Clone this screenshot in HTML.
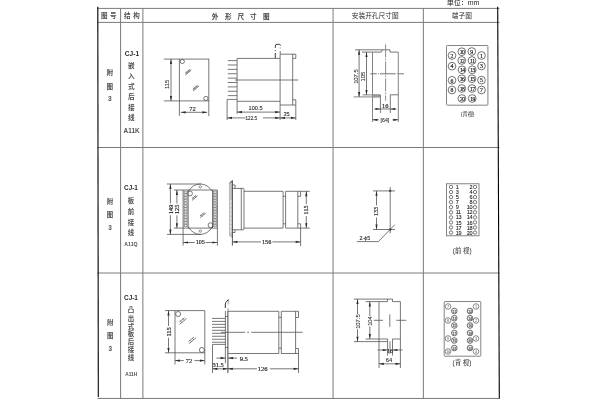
<!DOCTYPE html>
<html lang="zh">
<head>
<meta charset="utf-8">
<title>CJ-1 外形尺寸图</title>
<style>
html,body{margin:0;padding:0;background:#fff;}
body{width:600px;height:400px;overflow:hidden;}
svg{display:block;}
#soft{filter:blur(0.4px);}
#crisp{filter:blur(0.2px);}
</style>
</head>
<body>
<svg width="600" height="400" viewBox="0 0 600 400">
<rect x="0" y="0" width="600" height="400" fill="#fff"/>
<g id="soft">
<g id="grid">
<line x1="97.5" y1="8.4" x2="499.5" y2="8.4" stroke="#7a7a7a" stroke-width="1"/>
<line x1="97.5" y1="22.4" x2="499.5" y2="22.4" stroke="#7a7a7a" stroke-width="1"/>
<line x1="97.5" y1="147.5" x2="499.5" y2="147.5" stroke="#7a7a7a" stroke-width="1"/>
<line x1="97.5" y1="273" x2="499.5" y2="273" stroke="#7a7a7a" stroke-width="1"/>
<line x1="97.5" y1="398.45" x2="499.5" y2="398.45" stroke="#7a7a7a" stroke-width="1"/>
<line x1="120.6" y1="8.4" x2="120.6" y2="398.5" stroke="#7a7a7a" stroke-width="1"/>
<line x1="142.9" y1="8.4" x2="142.9" y2="398.5" stroke="#7a7a7a" stroke-width="1"/>
<line x1="333.05" y1="8.4" x2="333.05" y2="398.5" stroke="#7a7a7a" stroke-width="1"/>
<line x1="423.35" y1="8.4" x2="423.35" y2="398.5" stroke="#7a7a7a" stroke-width="1"/>
</g>
<g id="hdr">
<text x="463" y="2.8" font-size="7" font-family='"Liberation Sans", "Noto Sans CJK SC", sans-serif' text-anchor="middle" font-weight="normal" fill="#222" dominant-baseline="central">单位：mm</text>
<text x="108.8" y="15.6" font-size="6.5" font-family='"Liberation Sans", "Noto Sans CJK SC", sans-serif' text-anchor="middle" font-weight="bold" fill="#505050" dominant-baseline="central" letter-spacing="2.5" dx="1.25">图号</text>
<text x="131.8" y="15.6" font-size="6.5" font-family='"Liberation Sans", "Noto Sans CJK SC", sans-serif' text-anchor="middle" font-weight="bold" fill="#505050" dominant-baseline="central" letter-spacing="2.7" dx="1.35">结构</text>
<text x="215" y="16.2" font-size="6.6" font-family='"Liberation Sans", "Noto Sans CJK SC", sans-serif' text-anchor="middle" font-weight="bold" fill="#444" dominant-baseline="central">外</text>
<text x="228.4" y="16.2" font-size="6.6" font-family='"Liberation Sans", "Noto Sans CJK SC", sans-serif' text-anchor="middle" font-weight="bold" fill="#444" dominant-baseline="central">形</text>
<text x="240.8" y="16.2" font-size="6.6" font-family='"Liberation Sans", "Noto Sans CJK SC", sans-serif' text-anchor="middle" font-weight="bold" fill="#444" dominant-baseline="central">尺</text>
<text x="253.3" y="16.2" font-size="6.6" font-family='"Liberation Sans", "Noto Sans CJK SC", sans-serif' text-anchor="middle" font-weight="bold" fill="#444" dominant-baseline="central">寸</text>
<text x="266.3" y="16.2" font-size="6.6" font-family='"Liberation Sans", "Noto Sans CJK SC", sans-serif' text-anchor="middle" font-weight="bold" fill="#444" dominant-baseline="central">图</text>
<text x="375.2" y="15.6" font-size="6.7" font-family='"Liberation Sans", "Noto Sans CJK SC", sans-serif' text-anchor="middle" font-weight="normal" fill="#2a2a2a" dominant-baseline="central">安装开孔尺寸图</text>
<text x="461.8" y="15.6" font-size="6.7" font-family='"Liberation Sans", "Noto Sans CJK SC", sans-serif' text-anchor="middle" font-weight="normal" fill="#2a2a2a" dominant-baseline="central">端子图</text>
</g>
<g id="labels">
<text x="109.8" y="72.8" font-size="6.6" font-family='"Liberation Sans", "Noto Sans CJK SC", sans-serif' text-anchor="middle" font-weight="bold" fill="#505050" dominant-baseline="central">附</text>
<text x="109.8" y="86" font-size="6.6" font-family='"Liberation Sans", "Noto Sans CJK SC", sans-serif' text-anchor="middle" font-weight="bold" fill="#505050" dominant-baseline="central">图</text>
<text x="109.8" y="98.8" font-size="6.6" font-family='"Liberation Sans", "Noto Sans CJK SC", sans-serif' text-anchor="middle" font-weight="bold" fill="#505050" dominant-baseline="central">3</text>
<text x="132" y="53.2" font-size="6.6" font-family='"Liberation Sans", "Noto Sans CJK SC", sans-serif' text-anchor="middle" font-weight="bold" fill="#2a2a2a" dominant-baseline="central">CJ-1</text>
<text x="131.4" y="65.8" font-size="6.6" font-family='"Liberation Sans", "Noto Sans CJK SC", sans-serif' text-anchor="middle" font-weight="bold" fill="#505050" dominant-baseline="central">嵌</text>
<text x="131.4" y="76.2" font-size="6.6" font-family='"Liberation Sans", "Noto Sans CJK SC", sans-serif' text-anchor="middle" font-weight="bold" fill="#505050" dominant-baseline="central">入</text>
<text x="131.4" y="86.3" font-size="6.6" font-family='"Liberation Sans", "Noto Sans CJK SC", sans-serif' text-anchor="middle" font-weight="bold" fill="#505050" dominant-baseline="central">式</text>
<text x="131.4" y="96.8" font-size="6.6" font-family='"Liberation Sans", "Noto Sans CJK SC", sans-serif' text-anchor="middle" font-weight="bold" fill="#505050" dominant-baseline="central">后</text>
<text x="131.4" y="107.3" font-size="6.6" font-family='"Liberation Sans", "Noto Sans CJK SC", sans-serif' text-anchor="middle" font-weight="bold" fill="#505050" dominant-baseline="central">接</text>
<text x="131.4" y="117.5" font-size="6.6" font-family='"Liberation Sans", "Noto Sans CJK SC", sans-serif' text-anchor="middle" font-weight="bold" fill="#505050" dominant-baseline="central">线</text>
<text x="131.6" y="130.2" font-size="6.4" font-family='"Liberation Sans", "Noto Sans CJK SC", sans-serif' text-anchor="middle" font-weight="bold" fill="#505050" dominant-baseline="central">A11K</text>
<text x="110" y="201" font-size="6.4" font-family='"Liberation Sans", "Noto Sans CJK SC", sans-serif' text-anchor="middle" font-weight="bold" fill="#505050" dominant-baseline="central">附</text>
<text x="110" y="214.6" font-size="6.4" font-family='"Liberation Sans", "Noto Sans CJK SC", sans-serif' text-anchor="middle" font-weight="bold" fill="#505050" dominant-baseline="central">图</text>
<text x="110" y="227.6" font-size="6.4" font-family='"Liberation Sans", "Noto Sans CJK SC", sans-serif' text-anchor="middle" font-weight="bold" fill="#505050" dominant-baseline="central">3</text>
<text x="131" y="187.4" font-size="6.4" font-family='"Liberation Sans", "Noto Sans CJK SC", sans-serif' text-anchor="middle" font-weight="bold" fill="#2a2a2a" dominant-baseline="central">CJ-1</text>
<text x="131" y="200.4" font-size="6.4" font-family='"Liberation Sans", "Noto Sans CJK SC", sans-serif' text-anchor="middle" font-weight="bold" fill="#505050" dominant-baseline="central">板</text>
<text x="131" y="211" font-size="6.4" font-family='"Liberation Sans", "Noto Sans CJK SC", sans-serif' text-anchor="middle" font-weight="bold" fill="#505050" dominant-baseline="central">前</text>
<text x="131" y="222" font-size="6.4" font-family='"Liberation Sans", "Noto Sans CJK SC", sans-serif' text-anchor="middle" font-weight="bold" fill="#505050" dominant-baseline="central">接</text>
<text x="131" y="232.4" font-size="6.4" font-family='"Liberation Sans", "Noto Sans CJK SC", sans-serif' text-anchor="middle" font-weight="bold" fill="#505050" dominant-baseline="central">线</text>
<text x="131" y="244.4" font-size="5.2" font-family='"Liberation Sans", "Noto Sans CJK SC", sans-serif' text-anchor="middle" font-weight="bold" fill="#505050" dominant-baseline="central">A11Q</text>
<text x="110.3" y="322" font-size="6.4" font-family='"Liberation Sans", "Noto Sans CJK SC", sans-serif' text-anchor="middle" font-weight="bold" fill="#505050" dominant-baseline="central">附</text>
<text x="110.3" y="335" font-size="6.4" font-family='"Liberation Sans", "Noto Sans CJK SC", sans-serif' text-anchor="middle" font-weight="bold" fill="#505050" dominant-baseline="central">图</text>
<text x="110.3" y="348.5" font-size="6.4" font-family='"Liberation Sans", "Noto Sans CJK SC", sans-serif' text-anchor="middle" font-weight="bold" fill="#505050" dominant-baseline="central">3</text>
<text x="131" y="297.2" font-size="6.4" font-family='"Liberation Sans", "Noto Sans CJK SC", sans-serif' text-anchor="middle" font-weight="bold" fill="#2a2a2a" dominant-baseline="central">CJ-1</text>
<text x="131" y="309.8" font-size="6.4" font-family='"Liberation Sans", "Noto Sans CJK SC", sans-serif' text-anchor="middle" font-weight="bold" fill="#505050" dominant-baseline="central">凸</text>
<text x="131" y="318.6" font-size="6.4" font-family='"Liberation Sans", "Noto Sans CJK SC", sans-serif' text-anchor="middle" font-weight="bold" fill="#505050" dominant-baseline="central">出</text>
<text x="131" y="326" font-size="6.4" font-family='"Liberation Sans", "Noto Sans CJK SC", sans-serif' text-anchor="middle" font-weight="bold" fill="#505050" dominant-baseline="central">式</text>
<text x="131" y="333.4" font-size="6.4" font-family='"Liberation Sans", "Noto Sans CJK SC", sans-serif' text-anchor="middle" font-weight="bold" fill="#505050" dominant-baseline="central">板</text>
<text x="131" y="341.3" font-size="6.4" font-family='"Liberation Sans", "Noto Sans CJK SC", sans-serif' text-anchor="middle" font-weight="bold" fill="#505050" dominant-baseline="central">后</text>
<text x="131" y="349.6" font-size="6.4" font-family='"Liberation Sans", "Noto Sans CJK SC", sans-serif' text-anchor="middle" font-weight="bold" fill="#505050" dominant-baseline="central">接</text>
<text x="131" y="357.5" font-size="6.4" font-family='"Liberation Sans", "Noto Sans CJK SC", sans-serif' text-anchor="middle" font-weight="bold" fill="#505050" dominant-baseline="central">线</text>
<text x="131.2" y="374.4" font-size="4.8" font-family='"Liberation Sans", "Noto Sans CJK SC", sans-serif' text-anchor="middle" font-weight="bold" fill="#505050" dominant-baseline="central">A11H</text>
</g>
<g id="r1a">
<line x1="163.8" y1="59.1" x2="209.2" y2="59.1" stroke="#555" stroke-width="0.8"/>
<line x1="163.8" y1="100.9" x2="209.2" y2="100.9" stroke="#555" stroke-width="0.8"/>
<line x1="179.4" y1="59.1" x2="179.4" y2="115.8" stroke="#555" stroke-width="0.8"/>
<line x1="208.8" y1="59.1" x2="208.8" y2="116.2" stroke="#555" stroke-width="0.8"/>
<circle cx="182.3" cy="61.5" r="2.1" fill="none" stroke="#555" stroke-width="0.8"/>
<circle cx="205.9" cy="98.4" r="2.1" fill="none" stroke="#555" stroke-width="0.8"/>
<line x1="185.35" y1="75.08" x2="191.48" y2="69.94" stroke="#555" stroke-width="0.75"/>
<line x1="185.09" y1="73.22" x2="189.68" y2="69.36" stroke="#555" stroke-width="0.75"/>
<line x1="185.99" y1="71.8" x2="187.66" y2="73.8" stroke="#666" stroke-width="0.6"/>
<line x1="188.14" y1="70" x2="189.81" y2="72" stroke="#666" stroke-width="0.6"/>
<line x1="185.6" y1="73.9" x2="190.3" y2="69.9" stroke="#777" stroke-width="0.7"/>
<line x1="193.05" y1="90.98" x2="199.18" y2="85.84" stroke="#555" stroke-width="0.75"/>
<line x1="192.79" y1="89.12" x2="197.38" y2="85.26" stroke="#555" stroke-width="0.75"/>
<line x1="193.69" y1="87.7" x2="195.36" y2="89.7" stroke="#666" stroke-width="0.6"/>
<line x1="195.84" y1="85.9" x2="197.51" y2="87.9" stroke="#666" stroke-width="0.6"/>
<line x1="193.3" y1="89.8" x2="198" y2="85.8" stroke="#777" stroke-width="0.7"/>
<line x1="171" y1="59.1" x2="171" y2="100.9" stroke="#555" stroke-width="0.8"/>
<polygon points="171,59.1 172.1,64 169.9,64" fill="#2a2a2a"/>
<polygon points="171,100.9 169.9,96 172.1,96" fill="#2a2a2a"/>
<text x="167.4" y="84.4" font-size="5.8" font-family='"Liberation Sans", "Noto Sans CJK SC", sans-serif' text-anchor="middle" font-weight="normal" fill="#2a2a2a" dominant-baseline="central" transform="rotate(-90 167.4 84.4)" stroke="#2a2a2a" stroke-width="0.1">115</text>
<line x1="180.8" y1="112.3" x2="207.2" y2="112.3" stroke="#555" stroke-width="0.8"/>
<polygon points="180.8,112.3 185.7,111.2 185.7,113.4" fill="#2a2a2a"/>
<polygon points="207.2,112.3 202.3,113.4 202.3,111.2" fill="#2a2a2a"/>
<text x="192.6" y="109.3" font-size="5.8" font-family='"Liberation Sans", "Noto Sans CJK SC", sans-serif' text-anchor="middle" font-weight="normal" fill="#2a2a2a" dominant-baseline="central" stroke="#2a2a2a" stroke-width="0.1">72</text>
</g>
<g id="r1b">
<polyline points="237.1,113.8 237.1,58.4 280,58.4" fill="none" stroke="#555" stroke-width="0.8"/>
<line x1="237.1" y1="101.3" x2="280" y2="101.3" stroke="#555" stroke-width="0.8"/>
<polyline points="280.1,120 280.1,54.2 295.8,54.2 295.8,58.4 292.7,58.4" fill="none" stroke="#555" stroke-width="0.8"/>
<line x1="292.7" y1="54" x2="292.7" y2="105" stroke="#555" stroke-width="0.8"/>
<line x1="280" y1="105" x2="295.8" y2="105" stroke="#555" stroke-width="0.8"/>
<polyline points="292.7,99.8 295.8,99.8 295.8,120" fill="none" stroke="#555" stroke-width="0.8"/>
<line x1="275.3" y1="58.2" x2="275.3" y2="53" stroke="#333" stroke-width="0.95"/>
<line x1="275.3" y1="51.2" x2="275.3" y2="50.2" stroke="#333" stroke-width="0.95"/>
<path d="M275.3 47.9 L275.3 46 Q275.3 44.3 277 44.3 L279.4 44.3 Q280.4 44.3 280.4 45.7" fill="none" stroke="#333" stroke-width="0.95"/>
<line x1="280.2" y1="47.2" x2="280.2" y2="48.8" stroke="#aaa" stroke-width="0.9"/>
<line x1="280.2" y1="51.1" x2="280.2" y2="54" stroke="#666" stroke-width="0.9"/>
<line x1="227.8" y1="60.6" x2="237.1" y2="60.6" stroke="#555" stroke-width="0.8"/>
<line x1="227.8" y1="64.98" x2="237.1" y2="64.98" stroke="#555" stroke-width="0.8"/>
<line x1="227.8" y1="69.36" x2="237.1" y2="69.36" stroke="#555" stroke-width="0.8"/>
<line x1="227.8" y1="73.74" x2="237.1" y2="73.74" stroke="#555" stroke-width="0.8"/>
<line x1="227.8" y1="78.12" x2="237.1" y2="78.12" stroke="#555" stroke-width="0.8"/>
<line x1="227.8" y1="82.5" x2="237.1" y2="82.5" stroke="#555" stroke-width="0.8"/>
<line x1="227.8" y1="86.88" x2="237.1" y2="86.88" stroke="#555" stroke-width="0.8"/>
<line x1="227.8" y1="91.26" x2="237.1" y2="91.26" stroke="#555" stroke-width="0.8"/>
<line x1="227.8" y1="95.64" x2="237.1" y2="95.64" stroke="#555" stroke-width="0.8"/>
<polyline points="237.1,99.4 227.1,99.4 227.1,120" fill="none" stroke="#555" stroke-width="0.8"/>
<line x1="235" y1="80" x2="298.2" y2="80" stroke="#555" stroke-width="0.8"/>
<line x1="237.1" y1="112.1" x2="280" y2="112.1" stroke="#555" stroke-width="0.8"/>
<polygon points="237.1,112.1 242,111 242,113.2" fill="#2a2a2a"/>
<polygon points="280,112.1 275.1,113.2 275.1,111" fill="#2a2a2a"/>
<text x="255.6" y="108.2" font-size="5.6" font-family='"Liberation Sans", "Noto Sans CJK SC", sans-serif' text-anchor="middle" font-weight="normal" fill="#2a2a2a" dominant-baseline="central" stroke="#2a2a2a" stroke-width="0.1">100.5</text>
<line x1="227.1" y1="117.9" x2="245.5" y2="117.9" stroke="#555" stroke-width="0.8"/>
<line x1="263" y1="117.9" x2="280" y2="117.9" stroke="#555" stroke-width="0.8"/>
<polygon points="227.1,117.9 232,116.8 232,119" fill="#2a2a2a"/>
<polygon points="280,117.9 275.1,119 275.1,116.8" fill="#2a2a2a"/>
<text x="251.3" y="118.6" font-size="4.6" font-family='"Liberation Sans", "Noto Sans CJK SC", sans-serif' text-anchor="middle" font-weight="normal" fill="#2a2a2a" dominant-baseline="central" stroke="#2a2a2a" stroke-width="0.1">122.5</text>
<line x1="280" y1="117.9" x2="295.8" y2="117.9" stroke="#555" stroke-width="0.8"/>
<polygon points="280,117.9 284.9,116.8 284.9,119" fill="#2a2a2a"/>
<polygon points="295.8,117.9 290.9,119 290.9,116.8" fill="#2a2a2a"/>
<text x="286.6" y="113.6" font-size="5.6" font-family='"Liberation Sans", "Noto Sans CJK SC", sans-serif' text-anchor="middle" font-weight="normal" fill="#2a2a2a" dominant-baseline="central" stroke="#2a2a2a" stroke-width="0.1">35</text>
</g>
<g id="r1c">
<polyline points="355,49.8 390,49.8 390,52.1 398.2,52.1" fill="none" stroke="#555" stroke-width="0.8"/>
<polyline points="361.9,52.1 381.3,52.1 382.3,49.8" fill="none" stroke="#555" stroke-width="0.8"/>
<line x1="372.5" y1="52.1" x2="372.5" y2="121.9" stroke="#666" stroke-width="0.8"/>
<line x1="398.3" y1="52.1" x2="398.3" y2="121.9" stroke="#666" stroke-width="0.8"/>
<line x1="385.6" y1="44.4" x2="385.6" y2="100.6" stroke="#777" stroke-width="0.85" stroke-dasharray="13 1.2 1.6 1.2"/>
<line x1="370.3" y1="73.8" x2="376.8" y2="73.8" stroke="#666" stroke-width="0.9"/>
<line x1="378" y1="73.8" x2="378.9" y2="73.8" stroke="#666" stroke-width="0.9"/>
<line x1="380" y1="73.8" x2="395.7" y2="73.8" stroke="#666" stroke-width="0.9"/>
<line x1="396.8" y1="73.8" x2="397.7" y2="73.8" stroke="#666" stroke-width="0.9"/>
<line x1="398.8" y1="73.8" x2="404" y2="73.8" stroke="#666" stroke-width="0.9"/>
<line x1="353.5" y1="96.9" x2="379.6" y2="96.9" stroke="#777" stroke-width="0.9"/>
<line x1="362.5" y1="94.9" x2="380.4" y2="94.9" stroke="#777" stroke-width="0.9"/>
<rect x="372.5" y="94.6" width="7.5" height="2.6" rx="0" fill="#999" stroke="#999" stroke-width="0.1"/>
<polyline points="380.4,113 380.4,94.8" fill="none" stroke="#555" stroke-width="0.8"/>
<polyline points="390.3,113 390.3,94.8 398.3,94.8" fill="none" stroke="#555" stroke-width="0.8"/>
<line x1="359.1" y1="49.8" x2="359.1" y2="96.9" stroke="#555" stroke-width="0.8"/>
<polygon points="359.1,49.8 360.2,54.7 358,54.7" fill="#2a2a2a"/>
<polygon points="359.1,96.9 358,92 360.2,92" fill="#2a2a2a"/>
<text x="355.8" y="76.6" font-size="5.8" font-family='"Liberation Sans", "Noto Sans CJK SC", sans-serif' text-anchor="middle" font-weight="normal" fill="#2a2a2a" dominant-baseline="central" transform="rotate(-90 355.8 76.6)" stroke="#2a2a2a" stroke-width="0.1">107.5</text>
<line x1="366.5" y1="52.1" x2="366.5" y2="94.9" stroke="#555" stroke-width="0.8"/>
<polygon points="366.5,52.1 367.6,57 365.4,57" fill="#2a2a2a"/>
<polygon points="366.5,94.9 365.4,90 367.6,90" fill="#2a2a2a"/>
<text x="363" y="76.6" font-size="5.8" font-family='"Liberation Sans", "Noto Sans CJK SC", sans-serif' text-anchor="middle" font-weight="normal" fill="#2a2a2a" dominant-baseline="central" transform="rotate(-90 363 76.6)" stroke="#2a2a2a" stroke-width="0.1">105</text>
<line x1="374.4" y1="109" x2="396.3" y2="109" stroke="#555" stroke-width="0.8"/>
<polygon points="380.4,109 375.5,110.1 375.5,107.9" fill="#2a2a2a"/>
<polygon points="390.3,109 395.2,107.9 395.2,110.1" fill="#2a2a2a"/>
<text x="385.3" y="105.8" font-size="6.4" font-family='"Liberation Serif", "Noto Serif CJK SC", serif' text-anchor="middle" font-weight="normal" fill="#2a2a2a" dominant-baseline="central" stroke="#2a2a2a" stroke-width="0.2">16</text>
<line x1="372.5" y1="119.8" x2="378.8" y2="119.8" stroke="#555" stroke-width="0.8"/>
<line x1="392.5" y1="119.8" x2="398.3" y2="119.8" stroke="#555" stroke-width="0.8"/>
<polygon points="372.5,119.8 377.4,118.7 377.4,120.9" fill="#2a2a2a"/>
<polygon points="398.3,119.8 393.4,120.9 393.4,118.7" fill="#2a2a2a"/>
<text x="384.9" y="120.4" font-size="5.2" font-family='"Liberation Sans", "Noto Sans CJK SC", sans-serif' text-anchor="middle" font-weight="normal" fill="#2a2a2a" dominant-baseline="central" stroke="#2a2a2a" stroke-width="0.1">[64]</text>
</g>
<g id="r1d">
<rect x="446.5" y="45.5" width="41.4" height="59.7" rx="0.8" fill="none" stroke="#666" stroke-width="0.8"/>
<circle cx="461.8" cy="51.7" r="3.85" fill="none" stroke="#444" stroke-width="0.75"/>
<text x="461.8" y="51.9" font-size="5.6" font-family='"Liberation Serif", "Noto Serif CJK SC", serif' text-anchor="middle" font-weight="normal" fill="#222" dominant-baseline="central" letter-spacing="-0.55" dx="0.27" stroke="#222" stroke-width="0.2">10</text>
<circle cx="471.8" cy="51.5" r="3.85" fill="none" stroke="#444" stroke-width="0.75"/>
<text x="471.8" y="51.7" font-size="5.8" font-family='"Liberation Serif", "Noto Serif CJK SC", serif' text-anchor="middle" font-weight="normal" fill="#222" dominant-baseline="central" stroke="#222" stroke-width="0.2">9</text>
<circle cx="452" cy="55.5" r="3.85" fill="none" stroke="#444" stroke-width="0.75"/>
<text x="452" y="55.7" font-size="5.8" font-family='"Liberation Serif", "Noto Serif CJK SC", serif' text-anchor="middle" font-weight="normal" fill="#222" dominant-baseline="central" stroke="#222" stroke-width="0.2">2</text>
<circle cx="481.5" cy="55.5" r="3.85" fill="none" stroke="#444" stroke-width="0.75"/>
<text x="481.5" y="55.7" font-size="5.8" font-family='"Liberation Serif", "Noto Serif CJK SC", serif' text-anchor="middle" font-weight="normal" fill="#222" dominant-baseline="central" stroke="#222" stroke-width="0.2">1</text>
<circle cx="461.8" cy="60.5" r="3.85" fill="none" stroke="#444" stroke-width="0.75"/>
<text x="461.8" y="60.7" font-size="5.6" font-family='"Liberation Serif", "Noto Serif CJK SC", serif' text-anchor="middle" font-weight="normal" fill="#222" dominant-baseline="central" letter-spacing="-0.55" dx="0.27" stroke="#222" stroke-width="0.2">12</text>
<circle cx="472" cy="60.5" r="3.85" fill="none" stroke="#444" stroke-width="0.75"/>
<text x="472" y="60.7" font-size="5.6" font-family='"Liberation Serif", "Noto Serif CJK SC", serif' text-anchor="middle" font-weight="normal" fill="#222" dominant-baseline="central" letter-spacing="-0.55" dx="0.27" stroke="#222" stroke-width="0.2">11</text>
<circle cx="452" cy="66.2" r="3.85" fill="none" stroke="#444" stroke-width="0.75"/>
<text x="452" y="66.4" font-size="5.8" font-family='"Liberation Serif", "Noto Serif CJK SC", serif' text-anchor="middle" font-weight="normal" fill="#222" dominant-baseline="central" stroke="#222" stroke-width="0.2">4</text>
<circle cx="481.5" cy="66" r="3.85" fill="none" stroke="#444" stroke-width="0.75"/>
<text x="481.5" y="66.2" font-size="5.8" font-family='"Liberation Serif", "Noto Serif CJK SC", serif' text-anchor="middle" font-weight="normal" fill="#222" dominant-baseline="central" stroke="#222" stroke-width="0.2">3</text>
<circle cx="462" cy="69.8" r="3.85" fill="none" stroke="#444" stroke-width="0.75"/>
<text x="462" y="70" font-size="5.6" font-family='"Liberation Serif", "Noto Serif CJK SC", serif' text-anchor="middle" font-weight="normal" fill="#222" dominant-baseline="central" letter-spacing="-0.55" dx="0.27" stroke="#222" stroke-width="0.2">14</text>
<circle cx="472.2" cy="69.8" r="3.85" fill="none" stroke="#444" stroke-width="0.75"/>
<text x="472.2" y="70" font-size="5.6" font-family='"Liberation Serif", "Noto Serif CJK SC", serif' text-anchor="middle" font-weight="normal" fill="#222" dominant-baseline="central" letter-spacing="-0.55" dx="0.27" stroke="#222" stroke-width="0.2">13</text>
<circle cx="461.8" cy="78.7" r="3.85" fill="none" stroke="#444" stroke-width="0.75"/>
<text x="461.8" y="78.9" font-size="5.6" font-family='"Liberation Serif", "Noto Serif CJK SC", serif' text-anchor="middle" font-weight="normal" fill="#222" dominant-baseline="central" letter-spacing="-0.55" dx="0.27" stroke="#222" stroke-width="0.2">16</text>
<circle cx="472" cy="78.7" r="3.85" fill="none" stroke="#444" stroke-width="0.75"/>
<text x="472" y="78.9" font-size="5.6" font-family='"Liberation Serif", "Noto Serif CJK SC", serif' text-anchor="middle" font-weight="normal" fill="#222" dominant-baseline="central" letter-spacing="-0.55" dx="0.27" stroke="#222" stroke-width="0.2">15</text>
<circle cx="452" cy="80.3" r="3.85" fill="none" stroke="#444" stroke-width="0.75"/>
<text x="452" y="80.5" font-size="5.8" font-family='"Liberation Serif", "Noto Serif CJK SC", serif' text-anchor="middle" font-weight="normal" fill="#222" dominant-baseline="central" stroke="#222" stroke-width="0.2">6</text>
<circle cx="481.5" cy="80.1" r="3.85" fill="none" stroke="#444" stroke-width="0.75"/>
<text x="481.5" y="80.3" font-size="5.8" font-family='"Liberation Serif", "Noto Serif CJK SC", serif' text-anchor="middle" font-weight="normal" fill="#222" dominant-baseline="central" stroke="#222" stroke-width="0.2">5</text>
<circle cx="461.8" cy="88.5" r="3.85" fill="none" stroke="#444" stroke-width="0.75"/>
<text x="461.8" y="88.7" font-size="5.6" font-family='"Liberation Serif", "Noto Serif CJK SC", serif' text-anchor="middle" font-weight="normal" fill="#222" dominant-baseline="central" letter-spacing="-0.55" dx="0.27" stroke="#222" stroke-width="0.2">18</text>
<circle cx="472" cy="88.5" r="3.85" fill="none" stroke="#444" stroke-width="0.75"/>
<text x="472" y="88.7" font-size="5.6" font-family='"Liberation Serif", "Noto Serif CJK SC", serif' text-anchor="middle" font-weight="normal" fill="#222" dominant-baseline="central" letter-spacing="-0.55" dx="0.27" stroke="#222" stroke-width="0.2">17</text>
<circle cx="452" cy="90" r="3.85" fill="none" stroke="#444" stroke-width="0.75"/>
<text x="452" y="90.2" font-size="5.8" font-family='"Liberation Serif", "Noto Serif CJK SC", serif' text-anchor="middle" font-weight="normal" fill="#222" dominant-baseline="central" stroke="#222" stroke-width="0.2">8</text>
<circle cx="481.5" cy="90" r="3.85" fill="none" stroke="#444" stroke-width="0.75"/>
<text x="481.5" y="90.2" font-size="5.8" font-family='"Liberation Serif", "Noto Serif CJK SC", serif' text-anchor="middle" font-weight="normal" fill="#222" dominant-baseline="central" stroke="#222" stroke-width="0.2">7</text>
<circle cx="461.9" cy="98.5" r="3.85" fill="none" stroke="#444" stroke-width="0.75"/>
<text x="461.9" y="98.7" font-size="5.6" font-family='"Liberation Serif", "Noto Serif CJK SC", serif' text-anchor="middle" font-weight="normal" fill="#222" dominant-baseline="central" letter-spacing="-0.55" dx="0.27" stroke="#222" stroke-width="0.2">20</text>
<circle cx="472.2" cy="98.5" r="3.85" fill="none" stroke="#444" stroke-width="0.75"/>
<text x="472.2" y="98.7" font-size="5.6" font-family='"Liberation Serif", "Noto Serif CJK SC", serif' text-anchor="middle" font-weight="normal" fill="#222" dominant-baseline="central" letter-spacing="-0.55" dx="0.27" stroke="#222" stroke-width="0.2">19</text>
<text x="467.7" y="113.6" font-size="5.2" font-family='"Liberation Sans", "Noto Sans CJK SC", sans-serif' text-anchor="middle" font-weight="normal" fill="#2a2a2a" dominant-baseline="central">(背视)</text>
</g>
<g id="r2a">
<line x1="166.9" y1="184" x2="201" y2="184" stroke="#555" stroke-width="0.8"/>
<line x1="166.9" y1="234.4" x2="201" y2="234.4" stroke="#555" stroke-width="0.8"/>
<line x1="173.8" y1="190" x2="217.3" y2="190" stroke="#555" stroke-width="0.8"/>
<line x1="173.8" y1="228.1" x2="217.5" y2="228.1" stroke="#555" stroke-width="0.8"/>
<line x1="183.1" y1="190" x2="183.1" y2="245.6" stroke="#555" stroke-width="0.8"/>
<line x1="217.4" y1="190" x2="217.4" y2="245.6" stroke="#555" stroke-width="0.8"/>
<line x1="188.2" y1="190" x2="188.2" y2="228.1" stroke="#555" stroke-width="0.8"/>
<line x1="212.5" y1="190" x2="212.5" y2="228.1" stroke="#555" stroke-width="0.8"/>
<path d="M188.2 191.5 Q193 184 200.3 184 Q207.6 184 212.5 191.5" fill="none" stroke="#555" stroke-width="0.8"/>
<path d="M188.2 226.8 Q193 234.4 200.3 234.4 Q207.6 234.4 212.5 226.8" fill="none" stroke="#555" stroke-width="0.8"/>
<circle cx="200.3" cy="186.9" r="1.2" fill="none" stroke="#555" stroke-width="0.6"/>
<circle cx="200.3" cy="231.1" r="1.2" fill="none" stroke="#555" stroke-width="0.6"/>
<circle cx="190" cy="193.5" r="2.4" fill="none" stroke="#555" stroke-width="0.8"/>
<circle cx="210.5" cy="225.2" r="2.4" fill="none" stroke="#555" stroke-width="0.8"/>
<line x1="192.02" y1="200.41" x2="197.68" y2="195.66" stroke="#555" stroke-width="0.75"/>
<line x1="191.82" y1="198.75" x2="196.08" y2="195.18" stroke="#555" stroke-width="0.75"/>
<line x1="192.64" y1="197.41" x2="194.18" y2="199.25" stroke="#666" stroke-width="0.6"/>
<line x1="194.62" y1="195.75" x2="196.16" y2="197.59" stroke="#666" stroke-width="0.6"/>
<line x1="200.22" y1="217.71" x2="205.88" y2="212.96" stroke="#555" stroke-width="0.75"/>
<line x1="200.02" y1="216.05" x2="204.28" y2="212.48" stroke="#555" stroke-width="0.75"/>
<line x1="200.84" y1="214.71" x2="202.38" y2="216.55" stroke="#666" stroke-width="0.6"/>
<line x1="202.82" y1="213.05" x2="204.36" y2="214.89" stroke="#666" stroke-width="0.6"/>
<rect x="183.95" y="191" width="3.4" height="2.4" rx="0" fill="#c4c4c4" stroke="#707070" stroke-width="0.5"/>
<circle cx="185.65" cy="192.2" r="0.85" fill="#fff" stroke="#777" stroke-width="0.25"/>
<rect x="213.25" y="191" width="3.4" height="2.4" rx="0" fill="#c4c4c4" stroke="#707070" stroke-width="0.5"/>
<circle cx="214.95" cy="192.2" r="0.85" fill="#fff" stroke="#777" stroke-width="0.25"/>
<rect x="183.95" y="193.78" width="3.4" height="2.4" rx="0" fill="#c4c4c4" stroke="#707070" stroke-width="0.5"/>
<circle cx="185.65" cy="194.98" r="0.85" fill="#fff" stroke="#777" stroke-width="0.25"/>
<rect x="213.25" y="193.78" width="3.4" height="2.4" rx="0" fill="#c4c4c4" stroke="#707070" stroke-width="0.5"/>
<circle cx="214.95" cy="194.98" r="0.85" fill="#fff" stroke="#777" stroke-width="0.25"/>
<rect x="183.95" y="196.56" width="3.4" height="2.4" rx="0" fill="#c4c4c4" stroke="#707070" stroke-width="0.5"/>
<circle cx="185.65" cy="197.76" r="0.85" fill="#fff" stroke="#777" stroke-width="0.25"/>
<rect x="213.25" y="196.56" width="3.4" height="2.4" rx="0" fill="#c4c4c4" stroke="#707070" stroke-width="0.5"/>
<circle cx="214.95" cy="197.76" r="0.85" fill="#fff" stroke="#777" stroke-width="0.25"/>
<rect x="183.95" y="199.34" width="3.4" height="2.4" rx="0" fill="#c4c4c4" stroke="#707070" stroke-width="0.5"/>
<circle cx="185.65" cy="200.54" r="0.85" fill="#fff" stroke="#777" stroke-width="0.25"/>
<rect x="213.25" y="199.34" width="3.4" height="2.4" rx="0" fill="#c4c4c4" stroke="#707070" stroke-width="0.5"/>
<circle cx="214.95" cy="200.54" r="0.85" fill="#fff" stroke="#777" stroke-width="0.25"/>
<rect x="183.95" y="202.12" width="3.4" height="2.4" rx="0" fill="#c4c4c4" stroke="#707070" stroke-width="0.5"/>
<circle cx="185.65" cy="203.32" r="0.85" fill="#fff" stroke="#777" stroke-width="0.25"/>
<rect x="213.25" y="202.12" width="3.4" height="2.4" rx="0" fill="#c4c4c4" stroke="#707070" stroke-width="0.5"/>
<circle cx="214.95" cy="203.32" r="0.85" fill="#fff" stroke="#777" stroke-width="0.25"/>
<rect x="183.95" y="204.9" width="3.4" height="2.4" rx="0" fill="#c4c4c4" stroke="#707070" stroke-width="0.5"/>
<circle cx="185.65" cy="206.1" r="0.85" fill="#fff" stroke="#777" stroke-width="0.25"/>
<rect x="213.25" y="204.9" width="3.4" height="2.4" rx="0" fill="#c4c4c4" stroke="#707070" stroke-width="0.5"/>
<circle cx="214.95" cy="206.1" r="0.85" fill="#fff" stroke="#777" stroke-width="0.25"/>
<rect x="183.95" y="207.68" width="3.4" height="2.4" rx="0" fill="#c4c4c4" stroke="#707070" stroke-width="0.5"/>
<circle cx="185.65" cy="208.88" r="0.85" fill="#fff" stroke="#777" stroke-width="0.25"/>
<rect x="213.25" y="207.68" width="3.4" height="2.4" rx="0" fill="#c4c4c4" stroke="#707070" stroke-width="0.5"/>
<circle cx="214.95" cy="208.88" r="0.85" fill="#fff" stroke="#777" stroke-width="0.25"/>
<rect x="183.95" y="210.46" width="3.4" height="2.4" rx="0" fill="#c4c4c4" stroke="#707070" stroke-width="0.5"/>
<circle cx="185.65" cy="211.66" r="0.85" fill="#fff" stroke="#777" stroke-width="0.25"/>
<rect x="213.25" y="210.46" width="3.4" height="2.4" rx="0" fill="#c4c4c4" stroke="#707070" stroke-width="0.5"/>
<circle cx="214.95" cy="211.66" r="0.85" fill="#fff" stroke="#777" stroke-width="0.25"/>
<rect x="183.95" y="213.24" width="3.4" height="2.4" rx="0" fill="#c4c4c4" stroke="#707070" stroke-width="0.5"/>
<circle cx="185.65" cy="214.44" r="0.85" fill="#fff" stroke="#777" stroke-width="0.25"/>
<rect x="213.25" y="213.24" width="3.4" height="2.4" rx="0" fill="#c4c4c4" stroke="#707070" stroke-width="0.5"/>
<circle cx="214.95" cy="214.44" r="0.85" fill="#fff" stroke="#777" stroke-width="0.25"/>
<rect x="183.95" y="216.02" width="3.4" height="2.4" rx="0" fill="#c4c4c4" stroke="#707070" stroke-width="0.5"/>
<circle cx="185.65" cy="217.22" r="0.85" fill="#fff" stroke="#777" stroke-width="0.25"/>
<rect x="213.25" y="216.02" width="3.4" height="2.4" rx="0" fill="#c4c4c4" stroke="#707070" stroke-width="0.5"/>
<circle cx="214.95" cy="217.22" r="0.85" fill="#fff" stroke="#777" stroke-width="0.25"/>
<rect x="183.95" y="218.8" width="3.4" height="2.4" rx="0" fill="#c4c4c4" stroke="#707070" stroke-width="0.5"/>
<circle cx="185.65" cy="220" r="0.85" fill="#fff" stroke="#777" stroke-width="0.25"/>
<rect x="213.25" y="218.8" width="3.4" height="2.4" rx="0" fill="#c4c4c4" stroke="#707070" stroke-width="0.5"/>
<circle cx="214.95" cy="220" r="0.85" fill="#fff" stroke="#777" stroke-width="0.25"/>
<rect x="183.95" y="221.58" width="3.4" height="2.4" rx="0" fill="#c4c4c4" stroke="#707070" stroke-width="0.5"/>
<circle cx="185.65" cy="222.78" r="0.85" fill="#fff" stroke="#777" stroke-width="0.25"/>
<rect x="213.25" y="221.58" width="3.4" height="2.4" rx="0" fill="#c4c4c4" stroke="#707070" stroke-width="0.5"/>
<circle cx="214.95" cy="222.78" r="0.85" fill="#fff" stroke="#777" stroke-width="0.25"/>
<rect x="183.95" y="224.36" width="3.4" height="2.4" rx="0" fill="#c4c4c4" stroke="#707070" stroke-width="0.5"/>
<circle cx="185.65" cy="225.56" r="0.85" fill="#fff" stroke="#777" stroke-width="0.25"/>
<rect x="213.25" y="224.36" width="3.4" height="2.4" rx="0" fill="#c4c4c4" stroke="#707070" stroke-width="0.5"/>
<circle cx="214.95" cy="225.56" r="0.85" fill="#fff" stroke="#777" stroke-width="0.25"/>
<line x1="170.4" y1="184" x2="170.4" y2="203.5" stroke="#555" stroke-width="0.8"/>
<line x1="170.4" y1="215.3" x2="170.4" y2="234.4" stroke="#555" stroke-width="0.8"/>
<polygon points="170.4,184 171.5,188.9 169.3,188.9" fill="#2a2a2a"/>
<polygon points="170.4,234.4 169.3,229.5 171.5,229.5" fill="#2a2a2a"/>
<text x="170.3" y="209.4" font-size="6.2" font-family='"Liberation Serif", "Noto Serif CJK SC", serif' text-anchor="middle" font-weight="normal" fill="#2a2a2a" dominant-baseline="central" transform="rotate(-90 170.3 209.4)" stroke="#2a2a2a" stroke-width="0.2">149</text>
<line x1="176.9" y1="190" x2="176.9" y2="203.5" stroke="#555" stroke-width="0.8"/>
<line x1="176.9" y1="215.3" x2="176.9" y2="228.1" stroke="#555" stroke-width="0.8"/>
<polygon points="176.9,190 178,194.9 175.8,194.9" fill="#2a2a2a"/>
<polygon points="176.9,228.1 175.8,223.2 178,223.2" fill="#2a2a2a"/>
<text x="176.9" y="209.4" font-size="6.2" font-family='"Liberation Serif", "Noto Serif CJK SC", serif' text-anchor="middle" font-weight="normal" fill="#2a2a2a" dominant-baseline="central" transform="rotate(-90 176.9 209.4)" stroke="#2a2a2a" stroke-width="0.2">125</text>
<line x1="183.1" y1="242.5" x2="194.8" y2="242.5" stroke="#555" stroke-width="0.8"/>
<line x1="205.6" y1="242.5" x2="217.4" y2="242.5" stroke="#555" stroke-width="0.8"/>
<polygon points="183.1,242.5 188,241.4 188,243.6" fill="#2a2a2a"/>
<polygon points="217.4,242.5 212.5,243.6 212.5,241.4" fill="#2a2a2a"/>
<text x="200.2" y="242.3" font-size="6" font-family='"Liberation Serif", "Noto Serif CJK SC", serif' text-anchor="middle" font-weight="normal" fill="#2a2a2a" dominant-baseline="central" stroke="#2a2a2a" stroke-width="0.2">105</text>
</g>
<g id="r2b">
<polygon points="229.4,183 232.4,180.6 232.4,237.6 229.4,235.6" fill="#c4c4c4" stroke="#999" stroke-width="0.5"/>
<line x1="230.9" y1="200" x2="230.9" y2="234" stroke="#f4f4f4" stroke-width="1" stroke-dasharray="3 1.2"/>
<polyline points="229.6,183 232.4,180.6 232.4,245.6" fill="none" stroke="#444" stroke-width="0.9"/>
<polyline points="232.5,185 235.1,185 235.1,188.3" fill="none" stroke="#555" stroke-width="0.8"/>
<polyline points="232.5,188.4 243.4,188.4 244,189.2 244,229 243.4,229.8 232.5,229.8" fill="none" stroke="#555" stroke-width="0.8"/>
<polyline points="235,229.8 235,232.5 232.5,232.5" fill="none" stroke="#555" stroke-width="0.8"/>
<line x1="241.3" y1="188.1" x2="241.3" y2="229.8" stroke="#555" stroke-width="0.8"/>
<polyline points="243.9,191.3 283.1,191.3 283.1,228.1 243.9,228.1" fill="none" stroke="#555" stroke-width="0.8"/>
<polyline points="309.8,191.3 285.6,191.3 285.6,228.1 309.8,228.1" fill="none" stroke="#555" stroke-width="0.8"/>
<line x1="283.1" y1="196.3" x2="285.6" y2="196.3" stroke="#555" stroke-width="0.8"/>
<line x1="283.1" y1="223.8" x2="285.6" y2="223.8" stroke="#555" stroke-width="0.8"/>
<line x1="297.8" y1="191.3" x2="297.8" y2="228.1" stroke="#555" stroke-width="0.8"/>
<polyline points="297.8,196.3 300.6,196.3 300.6,191.3" fill="none" stroke="#555" stroke-width="0.8"/>
<polyline points="297.8,223.8 300.6,223.8 300.6,246.2" fill="none" stroke="#555" stroke-width="0.8"/>
<line x1="306.3" y1="191.3" x2="306.3" y2="204" stroke="#555" stroke-width="0.8"/>
<line x1="306.3" y1="216" x2="306.3" y2="228.1" stroke="#555" stroke-width="0.8"/>
<polygon points="306.3,191.3 307.4,196.2 305.2,196.2" fill="#2a2a2a"/>
<polygon points="306.3,228.1 305.2,223.2 307.4,223.2" fill="#2a2a2a"/>
<text x="306.3" y="210" font-size="6" font-family='"Liberation Serif", "Noto Serif CJK SC", serif' text-anchor="middle" font-weight="normal" fill="#2a2a2a" dominant-baseline="central" transform="rotate(-90 306.3 210)" stroke="#2a2a2a" stroke-width="0.2">115</text>
<line x1="232.5" y1="241.9" x2="261" y2="241.9" stroke="#555" stroke-width="0.8"/>
<line x1="272.3" y1="241.9" x2="300.6" y2="241.9" stroke="#555" stroke-width="0.8"/>
<polygon points="232.5,241.9 237.4,240.8 237.4,243" fill="#2a2a2a"/>
<polygon points="300.6,241.9 295.7,243 295.7,240.8" fill="#2a2a2a"/>
<text x="266.6" y="241.8" font-size="6.2" font-family='"Liberation Serif", "Noto Serif CJK SC", serif' text-anchor="middle" font-weight="normal" fill="#2a2a2a" dominant-baseline="central" stroke="#2a2a2a" stroke-width="0.2">156</text>
</g>
<g id="r2c">
<line x1="373" y1="190.9" x2="395" y2="190.9" stroke="#555" stroke-width="0.8"/>
<line x1="373" y1="229.5" x2="395" y2="229.5" stroke="#555" stroke-width="0.8"/>
<line x1="390.2" y1="187" x2="390.2" y2="233.4" stroke="#555" stroke-width="0.8"/>
<circle cx="390.2" cy="190.9" r="0.9" fill="#444" stroke="#333" stroke-width="0.5"/>
<circle cx="390.2" cy="229.5" r="0.9" fill="#444" stroke="#333" stroke-width="0.5"/>
<line x1="376.5" y1="190.9" x2="376.5" y2="205.5" stroke="#555" stroke-width="0.8"/>
<line x1="376.5" y1="217.5" x2="376.5" y2="229.5" stroke="#555" stroke-width="0.8"/>
<polygon points="376.5,190.9 377.6,195.8 375.4,195.8" fill="#2a2a2a"/>
<polygon points="376.5,229.5 375.4,224.6 377.6,224.6" fill="#2a2a2a"/>
<text x="376.3" y="211.5" font-size="6" font-family='"Liberation Serif", "Noto Serif CJK SC", serif' text-anchor="middle" font-weight="normal" fill="#2a2a2a" dominant-baseline="central" transform="rotate(-90 376.3 211.5)" stroke="#2a2a2a" stroke-width="0.2">133</text>
<polyline points="394.9,224.6 378.3,241.6 356.9,241.6" fill="none" stroke="#555" stroke-width="0.8"/>
<text x="364.8" y="237.5" font-size="5.4" font-family='"Liberation Sans", "Noto Sans CJK SC", sans-serif' text-anchor="middle" font-weight="normal" fill="#2a2a2a" dominant-baseline="central" stroke="#2a2a2a" stroke-width="0.1">2-ϕ5</text>
</g>
<g id="r2d">
<rect x="446.5" y="183.8" width="32.5" height="52" rx="0" fill="none" stroke="#666" stroke-width="0.8"/>
<circle cx="451" cy="187" r="1.7" fill="none" stroke="#444" stroke-width="0.7"/>
<circle cx="475" cy="187" r="1.7" fill="none" stroke="#444" stroke-width="0.7"/>
<text x="455.8" y="187.1" font-size="5.5" font-family='"Liberation Sans", "Noto Sans CJK SC", sans-serif' text-anchor="start" font-weight="400" fill="#222" dominant-baseline="central" letter-spacing="-0.45" stroke="#222" stroke-width="0.1">1</text>
<text x="472" y="187.1" font-size="5.5" font-family='"Liberation Sans", "Noto Sans CJK SC", sans-serif' text-anchor="end" font-weight="400" fill="#222" dominant-baseline="central" letter-spacing="-0.45" stroke="#222" stroke-width="0.1">2</text>
<circle cx="451" cy="192.06" r="1.7" fill="none" stroke="#444" stroke-width="0.7"/>
<circle cx="475" cy="192.06" r="1.7" fill="none" stroke="#444" stroke-width="0.7"/>
<text x="455.8" y="192.16" font-size="5.5" font-family='"Liberation Sans", "Noto Sans CJK SC", sans-serif' text-anchor="start" font-weight="400" fill="#222" dominant-baseline="central" letter-spacing="-0.45" stroke="#222" stroke-width="0.1">3</text>
<text x="472" y="192.16" font-size="5.5" font-family='"Liberation Sans", "Noto Sans CJK SC", sans-serif' text-anchor="end" font-weight="400" fill="#222" dominant-baseline="central" letter-spacing="-0.45" stroke="#222" stroke-width="0.1">4</text>
<circle cx="451" cy="197.12" r="1.7" fill="none" stroke="#444" stroke-width="0.7"/>
<circle cx="475" cy="197.12" r="1.7" fill="none" stroke="#444" stroke-width="0.7"/>
<text x="455.8" y="197.22" font-size="5.5" font-family='"Liberation Sans", "Noto Sans CJK SC", sans-serif' text-anchor="start" font-weight="400" fill="#222" dominant-baseline="central" letter-spacing="-0.45" stroke="#222" stroke-width="0.1">5</text>
<text x="472" y="197.22" font-size="5.5" font-family='"Liberation Sans", "Noto Sans CJK SC", sans-serif' text-anchor="end" font-weight="400" fill="#222" dominant-baseline="central" letter-spacing="-0.45" stroke="#222" stroke-width="0.1">6</text>
<circle cx="451" cy="202.18" r="1.7" fill="none" stroke="#444" stroke-width="0.7"/>
<circle cx="475" cy="202.18" r="1.7" fill="none" stroke="#444" stroke-width="0.7"/>
<text x="455.8" y="202.28" font-size="5.5" font-family='"Liberation Sans", "Noto Sans CJK SC", sans-serif' text-anchor="start" font-weight="400" fill="#222" dominant-baseline="central" letter-spacing="-0.45" stroke="#222" stroke-width="0.1">7</text>
<text x="472" y="202.28" font-size="5.5" font-family='"Liberation Sans", "Noto Sans CJK SC", sans-serif' text-anchor="end" font-weight="400" fill="#222" dominant-baseline="central" letter-spacing="-0.45" stroke="#222" stroke-width="0.1">8</text>
<circle cx="451" cy="207.24" r="1.7" fill="none" stroke="#444" stroke-width="0.7"/>
<circle cx="475" cy="207.24" r="1.7" fill="none" stroke="#444" stroke-width="0.7"/>
<text x="455.8" y="207.34" font-size="5.5" font-family='"Liberation Sans", "Noto Sans CJK SC", sans-serif' text-anchor="start" font-weight="400" fill="#222" dominant-baseline="central" letter-spacing="-0.45" stroke="#222" stroke-width="0.1">9</text>
<text x="472" y="207.34" font-size="5.5" font-family='"Liberation Sans", "Noto Sans CJK SC", sans-serif' text-anchor="end" font-weight="400" fill="#222" dominant-baseline="central" letter-spacing="-0.45" stroke="#222" stroke-width="0.1">10</text>
<circle cx="451" cy="212.3" r="1.7" fill="none" stroke="#444" stroke-width="0.7"/>
<circle cx="475" cy="212.3" r="1.7" fill="none" stroke="#444" stroke-width="0.7"/>
<text x="455.8" y="212.4" font-size="5.5" font-family='"Liberation Sans", "Noto Sans CJK SC", sans-serif' text-anchor="start" font-weight="400" fill="#222" dominant-baseline="central" letter-spacing="-0.45" stroke="#222" stroke-width="0.1">11</text>
<text x="472" y="212.4" font-size="5.5" font-family='"Liberation Sans", "Noto Sans CJK SC", sans-serif' text-anchor="end" font-weight="400" fill="#222" dominant-baseline="central" letter-spacing="-0.45" stroke="#222" stroke-width="0.1">12</text>
<circle cx="451" cy="217.36" r="1.7" fill="none" stroke="#444" stroke-width="0.7"/>
<circle cx="475" cy="217.36" r="1.7" fill="none" stroke="#444" stroke-width="0.7"/>
<text x="455.8" y="217.46" font-size="5.5" font-family='"Liberation Sans", "Noto Sans CJK SC", sans-serif' text-anchor="start" font-weight="400" fill="#222" dominant-baseline="central" letter-spacing="-0.45" stroke="#222" stroke-width="0.1">13</text>
<text x="472" y="217.46" font-size="5.5" font-family='"Liberation Sans", "Noto Sans CJK SC", sans-serif' text-anchor="end" font-weight="400" fill="#222" dominant-baseline="central" letter-spacing="-0.45" stroke="#222" stroke-width="0.1">14</text>
<circle cx="451" cy="222.42" r="1.7" fill="none" stroke="#444" stroke-width="0.7"/>
<circle cx="475" cy="222.42" r="1.7" fill="none" stroke="#444" stroke-width="0.7"/>
<text x="455.8" y="222.52" font-size="5.5" font-family='"Liberation Sans", "Noto Sans CJK SC", sans-serif' text-anchor="start" font-weight="400" fill="#222" dominant-baseline="central" letter-spacing="-0.45" stroke="#222" stroke-width="0.1">15</text>
<text x="472" y="222.52" font-size="5.5" font-family='"Liberation Sans", "Noto Sans CJK SC", sans-serif' text-anchor="end" font-weight="400" fill="#222" dominant-baseline="central" letter-spacing="-0.45" stroke="#222" stroke-width="0.1">16</text>
<circle cx="451" cy="227.48" r="1.7" fill="none" stroke="#444" stroke-width="0.7"/>
<circle cx="475" cy="227.48" r="1.7" fill="none" stroke="#444" stroke-width="0.7"/>
<text x="455.8" y="227.58" font-size="5.5" font-family='"Liberation Sans", "Noto Sans CJK SC", sans-serif' text-anchor="start" font-weight="400" fill="#222" dominant-baseline="central" letter-spacing="-0.45" stroke="#222" stroke-width="0.1">17</text>
<text x="472" y="227.58" font-size="5.5" font-family='"Liberation Sans", "Noto Sans CJK SC", sans-serif' text-anchor="end" font-weight="400" fill="#222" dominant-baseline="central" letter-spacing="-0.45" stroke="#222" stroke-width="0.1">18</text>
<circle cx="451" cy="232.54" r="1.7" fill="none" stroke="#444" stroke-width="0.7"/>
<circle cx="475" cy="232.54" r="1.7" fill="none" stroke="#444" stroke-width="0.7"/>
<text x="455.8" y="232.64" font-size="5.5" font-family='"Liberation Sans", "Noto Sans CJK SC", sans-serif' text-anchor="start" font-weight="400" fill="#222" dominant-baseline="central" letter-spacing="-0.45" stroke="#222" stroke-width="0.1">19</text>
<text x="472" y="232.64" font-size="5.5" font-family='"Liberation Sans", "Noto Sans CJK SC", sans-serif' text-anchor="end" font-weight="400" fill="#222" dominant-baseline="central" letter-spacing="-0.45" stroke="#222" stroke-width="0.1">20</text>
<text x="462.2" y="250" font-size="6.4" font-family='"Liberation Sans", "Noto Sans CJK SC", sans-serif' text-anchor="middle" font-weight="normal" fill="#2a2a2a" dominant-baseline="central">(前 视)</text>
</g>
<g id="r3a">
<line x1="165" y1="310.6" x2="204.8" y2="310.6" stroke="#555" stroke-width="0.8"/>
<line x1="165" y1="352.8" x2="204.8" y2="352.8" stroke="#555" stroke-width="0.8"/>
<line x1="175" y1="310.6" x2="175" y2="364.4" stroke="#555" stroke-width="0.8"/>
<line x1="204.8" y1="310.6" x2="204.8" y2="364.4" stroke="#555" stroke-width="0.8"/>
<circle cx="178.1" cy="314" r="2.5" fill="none" stroke="#555" stroke-width="0.8"/>
<circle cx="201.9" cy="350" r="2.5" fill="none" stroke="#555" stroke-width="0.8"/>
<line x1="179.59" y1="324.28" x2="186.63" y2="318.37" stroke="#555" stroke-width="0.75"/>
<line x1="179.25" y1="322.09" x2="184.53" y2="317.65" stroke="#555" stroke-width="0.75"/>
<line x1="180.33" y1="320.52" x2="182.2" y2="322.75" stroke="#666" stroke-width="0.6"/>
<line x1="182.8" y1="318.45" x2="184.67" y2="320.68" stroke="#666" stroke-width="0.6"/>
<line x1="188.99" y1="343.68" x2="196.03" y2="337.77" stroke="#555" stroke-width="0.75"/>
<line x1="188.65" y1="341.49" x2="193.93" y2="337.05" stroke="#555" stroke-width="0.75"/>
<line x1="189.73" y1="339.92" x2="191.6" y2="342.15" stroke="#666" stroke-width="0.6"/>
<line x1="192.2" y1="337.85" x2="194.07" y2="340.08" stroke="#666" stroke-width="0.6"/>
<line x1="168.5" y1="310.6" x2="168.5" y2="326" stroke="#555" stroke-width="0.8"/>
<line x1="168.5" y1="337.8" x2="168.5" y2="352.8" stroke="#555" stroke-width="0.8"/>
<polygon points="168.5,310.6 169.6,315.5 167.4,315.5" fill="#2a2a2a"/>
<polygon points="168.5,352.8 167.4,347.9 169.6,347.9" fill="#2a2a2a"/>
<text x="168.7" y="331.9" font-size="6.4" font-family='"Liberation Serif", "Noto Serif CJK SC", serif' text-anchor="middle" font-weight="normal" fill="#2a2a2a" dominant-baseline="central" transform="rotate(-90 168.7 331.9)" stroke="#2a2a2a" stroke-width="0.2">115</text>
<line x1="175" y1="360.6" x2="183.8" y2="360.6" stroke="#555" stroke-width="0.8"/>
<line x1="194.4" y1="360.6" x2="204.8" y2="360.6" stroke="#555" stroke-width="0.8"/>
<polygon points="175,360.6 179.9,359.5 179.9,361.7" fill="#2a2a2a"/>
<polygon points="204.8,360.6 199.9,361.7 199.9,359.5" fill="#2a2a2a"/>
<text x="189" y="360.4" font-size="6.4" font-family='"Liberation Serif", "Noto Serif CJK SC", serif' text-anchor="middle" font-weight="normal" fill="#2a2a2a" dominant-baseline="central" stroke="#2a2a2a" stroke-width="0.2">72</text>
</g>
<g id="r3b">
<polyline points="228.1,311.3 278.8,311.3 278.8,353.5 228.1,353.5" fill="none" stroke="#555" stroke-width="0.8"/>
<line x1="227.9" y1="311" x2="227.9" y2="373" stroke="#444" stroke-width="1"/>
<line x1="225.4" y1="311" x2="225.4" y2="363.2" stroke="#555" stroke-width="0.8"/>
<path d="M225.3 308 L225.3 304 Q225.5 302.6 226.6 301.4 L228.3 299.7" fill="none" stroke="#333" stroke-width="1.0"/>
<polygon points="228.6,299.3 228.5,301.4 227,300.4" fill="#333"/>
<line x1="228.1" y1="301.2" x2="228.1" y2="304.5" stroke="#999" stroke-width="0.9"/>
<line x1="228.1" y1="308.2" x2="228.1" y2="311.3" stroke="#888" stroke-width="0.9"/>
<line x1="225.4" y1="316.5" x2="228" y2="316.5" stroke="#555" stroke-width="0.8"/>
<line x1="225.4" y1="347.5" x2="228" y2="347.5" stroke="#555" stroke-width="0.8"/>
<line x1="212" y1="318.4" x2="225.4" y2="318.4" stroke="#555" stroke-width="0.8"/>
<line x1="212" y1="321.38" x2="225.4" y2="321.38" stroke="#555" stroke-width="0.8"/>
<line x1="212" y1="324.36" x2="225.4" y2="324.36" stroke="#555" stroke-width="0.8"/>
<line x1="212" y1="327.34" x2="225.4" y2="327.34" stroke="#555" stroke-width="0.8"/>
<line x1="212" y1="330.32" x2="225.4" y2="330.32" stroke="#555" stroke-width="0.8"/>
<line x1="212" y1="333.3" x2="225.4" y2="333.3" stroke="#555" stroke-width="0.8"/>
<line x1="212" y1="336.28" x2="225.4" y2="336.28" stroke="#555" stroke-width="0.8"/>
<line x1="212" y1="339.26" x2="225.4" y2="339.26" stroke="#555" stroke-width="0.8"/>
<line x1="212" y1="342.24" x2="225.4" y2="342.24" stroke="#555" stroke-width="0.8"/>
<polyline points="225.4,344.4 212.5,344.4 212.5,373" fill="none" stroke="#555" stroke-width="0.8"/>
<line x1="221" y1="332.3" x2="245.2" y2="332.3" stroke="#555" stroke-width="0.8"/>
<line x1="247.2" y1="332.3" x2="249" y2="332.3" stroke="#555" stroke-width="0.8"/>
<line x1="251.2" y1="332.3" x2="302.5" y2="332.3" stroke="#555" stroke-width="0.8"/>
<polyline points="281.3,311.3 281.3,353.5 298.5,353.5" fill="none" stroke="#555" stroke-width="0.8"/>
<line x1="281.3" y1="311.3" x2="298.5" y2="311.3" stroke="#555" stroke-width="0.8"/>
<line x1="278.8" y1="317.3" x2="281.3" y2="317.3" stroke="#555" stroke-width="0.8"/>
<line x1="278.8" y1="348.2" x2="281.3" y2="348.2" stroke="#555" stroke-width="0.8"/>
<line x1="295.6" y1="311.3" x2="295.6" y2="353.5" stroke="#555" stroke-width="0.8"/>
<polyline points="295.6,317.5 298.5,317.5 298.5,311.3" fill="none" stroke="#555" stroke-width="0.8"/>
<polyline points="295.6,348.5 298.5,348.5 298.5,373" fill="none" stroke="#555" stroke-width="0.8"/>
<line x1="216.3" y1="358.1" x2="225.4" y2="358.1" stroke="#555" stroke-width="0.8"/>
<polygon points="225.4,358.1 220.5,359.2 220.5,357" fill="#2a2a2a"/>
<line x1="228" y1="358.1" x2="237" y2="358.1" stroke="#555" stroke-width="0.8"/>
<polygon points="228.2,358.1 233.1,357 233.1,359.2" fill="#2a2a2a"/>
<text x="243.8" y="358.8" font-size="6.6" font-family='"Liberation Serif", "Noto Serif CJK SC", serif' text-anchor="middle" font-weight="normal" fill="#2a2a2a" dominant-baseline="central" stroke="#2a2a2a" stroke-width="0.2">9.5</text>
<text x="218.2" y="364.7" font-size="6.4" font-family='"Liberation Serif", "Noto Serif CJK SC", serif' text-anchor="middle" font-weight="normal" fill="#2a2a2a" dominant-baseline="central" stroke="#2a2a2a" stroke-width="0.2">31.5</text>
<line x1="212.5" y1="368.8" x2="227.9" y2="368.8" stroke="#555" stroke-width="0.8"/>
<polygon points="212.5,368.8 217.4,367.7 217.4,369.9" fill="#2a2a2a"/>
<polygon points="227.9,368.8 223,369.9 223,367.7" fill="#2a2a2a"/>
<line x1="227.9" y1="368.8" x2="256.9" y2="368.8" stroke="#555" stroke-width="0.8"/>
<line x1="270" y1="368.8" x2="298.5" y2="368.8" stroke="#555" stroke-width="0.8"/>
<polygon points="227.9,368.8 232.8,367.7 232.8,369.9" fill="#2a2a2a"/>
<polygon points="298.5,368.8 293.6,369.9 293.6,367.7" fill="#2a2a2a"/>
<text x="262.6" y="368.9" font-size="6.6" font-family='"Liberation Serif", "Noto Serif CJK SC", serif' text-anchor="middle" font-weight="normal" fill="#2a2a2a" dominant-baseline="central" stroke="#2a2a2a" stroke-width="0.2">126</text>
</g>
<g id="r3c">
<polyline points="353.8,299.1 392.5,299.1 392.5,301.6 400.4,301.6" fill="none" stroke="#555" stroke-width="0.8"/>
<polyline points="365.6,301.6 387.5,301.6 387.5,299.1" fill="none" stroke="#555" stroke-width="0.8"/>
<line x1="379" y1="301.6" x2="379" y2="368" stroke="#555" stroke-width="0.8"/>
<line x1="400.4" y1="301.6" x2="400.4" y2="368" stroke="#555" stroke-width="0.8"/>
<line x1="373.8" y1="320.3" x2="383" y2="320.3" stroke="#555" stroke-width="0.8"/>
<line x1="396.3" y1="320.3" x2="406.3" y2="320.3" stroke="#555" stroke-width="0.8"/>
<line x1="389.8" y1="314.4" x2="389.8" y2="326.9" stroke="#555" stroke-width="0.8"/>
<polyline points="365.6,339 387.6,339 387.6,355.6" fill="none" stroke="#555" stroke-width="0.8"/>
<polyline points="400.4,339 392.5,339 392.5,355.6" fill="none" stroke="#555" stroke-width="0.8"/>
<line x1="353.8" y1="341.6" x2="387.6" y2="341.6" stroke="#555" stroke-width="0.8"/>
<line x1="390" y1="341.3" x2="390" y2="353.8" stroke="#555" stroke-width="0.8"/>
<line x1="357.5" y1="299.1" x2="357.5" y2="314" stroke="#555" stroke-width="0.8"/>
<line x1="357.5" y1="329.2" x2="357.5" y2="341.6" stroke="#555" stroke-width="0.8"/>
<polygon points="357.5,299.1 358.6,304 356.4,304" fill="#2a2a2a"/>
<polygon points="357.5,341.6 356.4,336.7 358.6,336.7" fill="#2a2a2a"/>
<text x="358" y="321.6" font-size="5.8" font-family='"Liberation Sans", "Noto Sans CJK SC", sans-serif' text-anchor="middle" font-weight="normal" fill="#2a2a2a" dominant-baseline="central" transform="rotate(-90 358 321.6)" stroke="#2a2a2a" stroke-width="0.1">107.5</text>
<line x1="369.8" y1="301.6" x2="369.8" y2="316" stroke="#555" stroke-width="0.8"/>
<line x1="369.8" y1="326.3" x2="369.8" y2="339" stroke="#555" stroke-width="0.8"/>
<polygon points="369.8,301.6 370.9,306.5 368.7,306.5" fill="#2a2a2a"/>
<polygon points="369.8,339 368.7,334.1 370.9,334.1" fill="#2a2a2a"/>
<text x="370" y="321.1" font-size="5.7" font-family='"Liberation Sans", "Noto Sans CJK SC", sans-serif' text-anchor="middle" font-weight="normal" fill="#2a2a2a" dominant-baseline="central" transform="rotate(-90 370 321.1)" stroke="#2a2a2a" stroke-width="0.1">104</text>
<line x1="377.5" y1="350" x2="387.6" y2="350" stroke="#555" stroke-width="0.8"/>
<line x1="392.5" y1="350" x2="402.5" y2="350" stroke="#555" stroke-width="0.8"/>
<polygon points="387.6,350 382.7,351.1 382.7,348.9" fill="#2a2a2a"/>
<polygon points="392.5,350 397.4,348.9 397.4,351.1" fill="#2a2a2a"/>
<text x="390" y="351" font-size="5.4" font-family='"Liberation Serif", "Noto Serif CJK SC", serif' text-anchor="middle" font-weight="normal" fill="#2a2a2a" dominant-baseline="central" stroke="#2a2a2a" stroke-width="0.2">16</text>
<line x1="379" y1="363.8" x2="400.4" y2="363.8" stroke="#555" stroke-width="0.8"/>
<polygon points="379,363.8 383.9,362.7 383.9,364.9" fill="#2a2a2a"/>
<polygon points="400.4,363.8 395.5,364.9 395.5,362.7" fill="#2a2a2a"/>
<text x="389" y="360.4" font-size="5.8" font-family='"Liberation Sans", "Noto Sans CJK SC", sans-serif' text-anchor="middle" font-weight="normal" fill="#2a2a2a" dominant-baseline="central" stroke="#2a2a2a" stroke-width="0.1">64</text>
</g>
<g id="r3d">
<rect x="444.2" y="301.5" width="36.6" height="54.7" rx="0.6" fill="none" stroke="#666" stroke-width="0.8"/>
<circle cx="448" cy="306.5" r="2.8" fill="none" stroke="#555" stroke-width="0.7"/>
<text x="448" y="306.6" font-size="3.8" font-family='"Liberation Sans", "Noto Sans CJK SC", sans-serif' text-anchor="middle" font-weight="normal" fill="#555" dominant-baseline="central">7</text>
<circle cx="476" cy="306.5" r="2.8" fill="none" stroke="#555" stroke-width="0.7"/>
<text x="476" y="306.6" font-size="3.8" font-family='"Liberation Sans", "Noto Sans CJK SC", sans-serif' text-anchor="middle" font-weight="normal" fill="#555" dominant-baseline="central">1</text>
<circle cx="448" cy="320.5" r="2.8" fill="none" stroke="#555" stroke-width="0.7"/>
<text x="448" y="320.6" font-size="3.8" font-family='"Liberation Sans", "Noto Sans CJK SC", sans-serif' text-anchor="middle" font-weight="normal" fill="#555" dominant-baseline="central">8</text>
<circle cx="476" cy="320.5" r="2.8" fill="none" stroke="#555" stroke-width="0.7"/>
<text x="476" y="320.6" font-size="3.8" font-family='"Liberation Sans", "Noto Sans CJK SC", sans-serif' text-anchor="middle" font-weight="normal" fill="#555" dominant-baseline="central">2</text>
<circle cx="448" cy="338.5" r="2.8" fill="none" stroke="#555" stroke-width="0.7"/>
<text x="448" y="338.6" font-size="3.8" font-family='"Liberation Sans", "Noto Sans CJK SC", sans-serif' text-anchor="middle" font-weight="normal" fill="#555" dominant-baseline="central">9</text>
<circle cx="476" cy="338.5" r="2.8" fill="none" stroke="#555" stroke-width="0.7"/>
<text x="476" y="338.6" font-size="3.8" font-family='"Liberation Sans", "Noto Sans CJK SC", sans-serif' text-anchor="middle" font-weight="normal" fill="#555" dominant-baseline="central">3</text>
<circle cx="448" cy="351.5" r="2.8" fill="none" stroke="#555" stroke-width="0.7"/>
<text x="448" y="351.6" font-size="3.8" font-family='"Liberation Sans", "Noto Sans CJK SC", sans-serif' text-anchor="middle" font-weight="normal" fill="#555" dominant-baseline="central" letter-spacing="-0.3">10</text>
<circle cx="476" cy="351.5" r="2.8" fill="none" stroke="#555" stroke-width="0.7"/>
<text x="476" y="351.6" font-size="3.8" font-family='"Liberation Sans", "Noto Sans CJK SC", sans-serif' text-anchor="middle" font-weight="normal" fill="#555" dominant-baseline="central">4</text>
<circle cx="454.3" cy="311" r="2.8" fill="#efefef" stroke="#555" stroke-width="0.85"/>
<text x="454.3" y="311.1" font-size="3.9" font-family='"Liberation Sans", "Noto Sans CJK SC", sans-serif' text-anchor="middle" font-weight="bold" fill="#555" dominant-baseline="central" letter-spacing="-0.3">11</text>
<circle cx="470" cy="311" r="2.8" fill="#efefef" stroke="#555" stroke-width="0.85"/>
<text x="470" y="311.1" font-size="3.9" font-family='"Liberation Sans", "Noto Sans CJK SC", sans-serif' text-anchor="middle" font-weight="bold" fill="#555" dominant-baseline="central" letter-spacing="-0.3">12</text>
<circle cx="454.3" cy="318.2" r="2.8" fill="#efefef" stroke="#555" stroke-width="0.85"/>
<text x="454.3" y="318.3" font-size="3.9" font-family='"Liberation Sans", "Noto Sans CJK SC", sans-serif' text-anchor="middle" font-weight="bold" fill="#555" dominant-baseline="central" letter-spacing="-0.3">13</text>
<circle cx="470" cy="318.2" r="2.8" fill="#efefef" stroke="#555" stroke-width="0.85"/>
<text x="470" y="318.3" font-size="3.9" font-family='"Liberation Sans", "Noto Sans CJK SC", sans-serif' text-anchor="middle" font-weight="bold" fill="#555" dominant-baseline="central" letter-spacing="-0.3">14</text>
<circle cx="454.3" cy="325.5" r="2.8" fill="#efefef" stroke="#555" stroke-width="0.85"/>
<text x="454.3" y="325.6" font-size="3.9" font-family='"Liberation Sans", "Noto Sans CJK SC", sans-serif' text-anchor="middle" font-weight="bold" fill="#555" dominant-baseline="central" letter-spacing="-0.3">15</text>
<circle cx="470" cy="325.5" r="2.8" fill="#efefef" stroke="#555" stroke-width="0.85"/>
<text x="470" y="325.6" font-size="3.9" font-family='"Liberation Sans", "Noto Sans CJK SC", sans-serif' text-anchor="middle" font-weight="bold" fill="#555" dominant-baseline="central" letter-spacing="-0.3">16</text>
<circle cx="454.3" cy="333" r="2.8" fill="#efefef" stroke="#555" stroke-width="0.85"/>
<text x="454.3" y="333.1" font-size="3.9" font-family='"Liberation Sans", "Noto Sans CJK SC", sans-serif' text-anchor="middle" font-weight="bold" fill="#555" dominant-baseline="central" letter-spacing="-0.3">17</text>
<circle cx="470" cy="333" r="2.8" fill="#efefef" stroke="#555" stroke-width="0.85"/>
<text x="470" y="333.1" font-size="3.9" font-family='"Liberation Sans", "Noto Sans CJK SC", sans-serif' text-anchor="middle" font-weight="bold" fill="#555" dominant-baseline="central" letter-spacing="-0.3">18</text>
<circle cx="454.3" cy="340.5" r="2.8" fill="#efefef" stroke="#555" stroke-width="0.85"/>
<text x="454.3" y="340.6" font-size="3.9" font-family='"Liberation Sans", "Noto Sans CJK SC", sans-serif' text-anchor="middle" font-weight="bold" fill="#555" dominant-baseline="central" letter-spacing="-0.3">19</text>
<circle cx="470" cy="340.5" r="2.8" fill="#efefef" stroke="#555" stroke-width="0.85"/>
<text x="470" y="340.6" font-size="3.9" font-family='"Liberation Sans", "Noto Sans CJK SC", sans-serif' text-anchor="middle" font-weight="bold" fill="#555" dominant-baseline="central" letter-spacing="-0.3">20</text>
<circle cx="454.3" cy="348" r="2.8" fill="#efefef" stroke="#555" stroke-width="0.85"/>
<text x="454.3" y="348.1" font-size="3.9" font-family='"Liberation Sans", "Noto Sans CJK SC", sans-serif' text-anchor="middle" font-weight="bold" fill="#555" dominant-baseline="central" letter-spacing="-0.3">21</text>
<circle cx="470" cy="348" r="2.8" fill="#efefef" stroke="#555" stroke-width="0.85"/>
<text x="470" y="348.1" font-size="3.9" font-family='"Liberation Sans", "Noto Sans CJK SC", sans-serif' text-anchor="middle" font-weight="bold" fill="#555" dominant-baseline="central" letter-spacing="-0.3">22</text>
<text x="462" y="362.4" font-size="6.4" font-family='"Liberation Sans", "Noto Sans CJK SC", sans-serif' text-anchor="middle" font-weight="normal" fill="#2a2a2a" dominant-baseline="central">(背 视)</text>
</g>
</g>
<g id="crisp">
<line x1="97.8" y1="6.7" x2="98.3" y2="397" stroke="#000" stroke-width="1.1"/>
<line x1="497.7" y1="6.7" x2="499.3" y2="398.5" stroke="#000" stroke-width="1.1"/>
</g>
</svg>
</body>
</html>
